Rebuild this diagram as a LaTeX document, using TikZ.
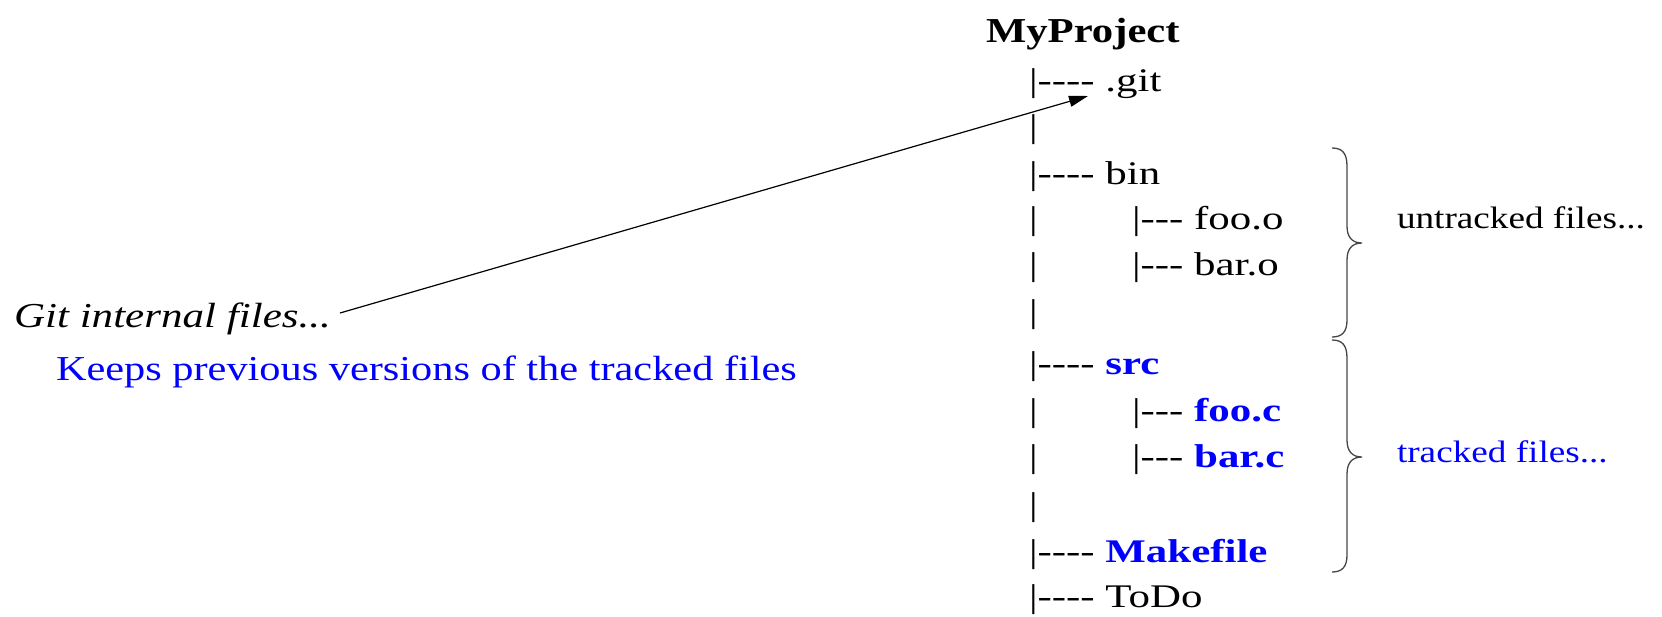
\documentclass[tikz,border=0pt]{standalone}
\usepackage{fontspec}
% plain hyphens must stay separate, so no TeX dash ligatures
\setmainfont{Liberation Serif}[Ligatures=TeXOff]
\usetikzlibrary{arrows.meta}
\definecolor{trackblue}{RGB}{0,0,255}
\definecolor{bracegray}{RGB}{70,70,70}
% lettering is set wide; the tree listing a little wider still
\newcommand{\widetext}[1]{\scalebox{1.2}[1]{#1}}
\newcommand{\treetext}[1]{\scalebox{1.3}[1]{#1}}
\newcommand{\trk}[1]{{\color{trackblue}\bfseries #1}}

\begin{document}
\begin{tikzpicture}[x=1pt,y=-1pt,
  txt/.style={anchor=base west, inner sep=0pt, outer sep=0pt},
  tree/.style={txt, font=\fontsize{33}{40}\selectfont},
  note/.style={txt, font=\fontsize{35}{42}\selectfont},
  side/.style={txt, font=\fontsize{31}{38}\selectfont},
  brace/.style={draw=bracegray, line width=1.3pt},
  pointer/.style={draw=black, line width=1.2pt, -{Triangle[length=19pt,width=11pt]}}
]
\useasboundingbox (0,0) rectangle (1662,616);

% project root
\node[txt, font=\fontsize{35}{42}\selectfont\bfseries] (root) at (986,42) {\scalebox{1.22}[1]{MyProject}};

% directory tree
\node[tree] (git)  at (1029,91)  {\treetext{|---- .git}};
\node[tree] (v1)   at (1029,137) {\treetext{|}};
\node[tree] (bin)  at (1029,184) {\treetext{|---- bin}};
\node[tree] (v2)   at (1029,229) {\treetext{|}};
\node[tree] (fooo) at (1132,229) {\treetext{|--- foo.o}};
\node[tree] (v3)   at (1029,275) {\treetext{|}};
\node[tree] (baro) at (1132,275) {\treetext{|--- bar.o}};
\node[tree] (v4)   at (1029,322) {\treetext{|}};
\node[tree] (src)  at (1029,374) {\treetext{|---- \trk{src}}};
\node[tree] (v5)   at (1029,421) {\treetext{|}};
\node[tree] (fooc) at (1132,421) {\treetext{|--- \trk{foo.c}}};
\node[tree] (v6)   at (1029,467) {\treetext{|}};
\node[tree] (barc) at (1132,467) {\treetext{|--- \trk{bar.c}}};
\node[tree] (v7)   at (1029,515) {\treetext{|}};
\node[tree] (make) at (1029,562) {\treetext{|---- \trk{Makefile}}};
\node[tree] (todo) at (1029,607) {\treetext{|---- ToDo}};

% braces grouping the entries
\draw[brace] (1332,148) .. controls (1342,148) and (1347,153) .. (1347,166)
  -- (1347,226) .. controls (1347,237) and (1352,243) .. (1362,243)
  .. controls (1352,243) and (1347,249) .. (1347,260)
  -- (1347,320) .. controls (1347,332) and (1342,337) .. (1332,337);
\draw[brace] (1332,340) .. controls (1342,340) and (1347,345) .. (1347,358)
  -- (1347,440) .. controls (1347,451) and (1352,457) .. (1362,457)
  .. controls (1352,457) and (1347,463) .. (1347,474)
  -- (1347,555) .. controls (1347,567) and (1342,572) .. (1332,572);
\node[side] (untracked) at (1397,228) {\widetext{untracked files...}};
\node[side, text=trackblue] (tracked) at (1397,462) {\widetext{tracked files...}};

% note on the repository folder
\node[note, font=\fontsize{35}{42}\selectfont\itshape] (gitnote) at (14,327) {\scalebox{1.23}[1]{Git internal files...}};
\node[note, text=trackblue] (keeps) at (56,380) {\scalebox{1.21}[1]{Keeps previous versions of the tracked files}};
\coordinate (tail) at (340,313);
\coordinate (tip) at (1088,96);
\draw[pointer] (tail) -- (tip);
\end{tikzpicture}
\end{document}
